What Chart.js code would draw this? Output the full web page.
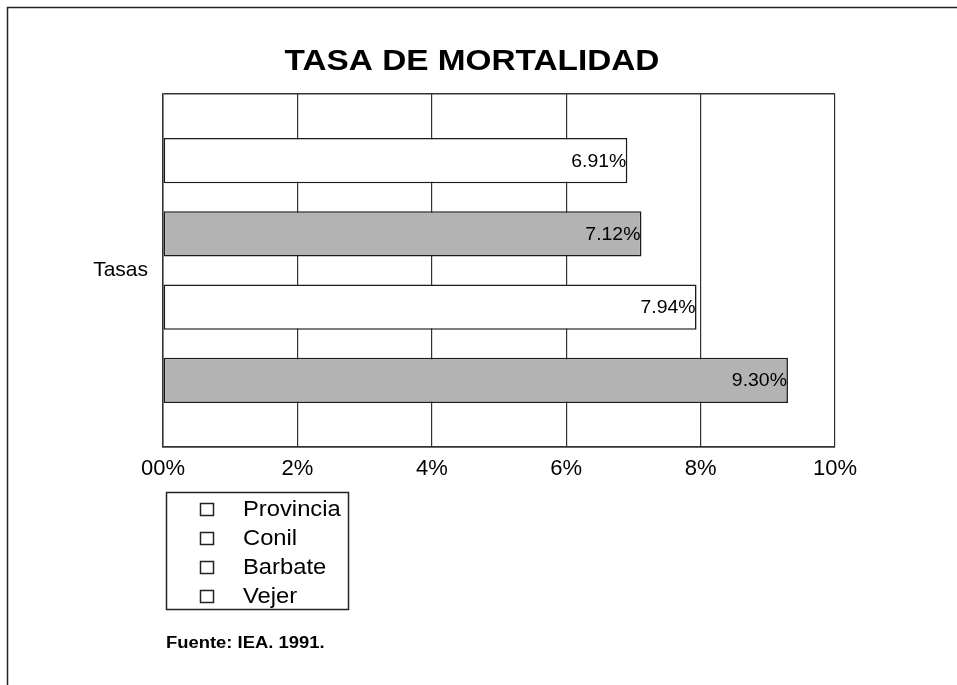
<!DOCTYPE html>
<html>
<head>
<meta charset="utf-8">
<script src="https://cdn.jsdelivr.net/npm/chart.js@4"></script>
<style>
  html, body { margin: 0; padding: 0; background: #ffffff; }
  canvas { display: block; }
</style>
</head>
<body>
<canvas id="c" width="957" height="685"></canvas>
<script>
const chartTitle = 'TASA DE MORTALIDAD';
const categories = ['Tasas'];
const seriesNames = ['Provincia', 'Conil', 'Barbate', 'Vejer'];
const seriesValues = [6.91, 7.12, 7.94, 9.30];
const seriesFills = ['#ffffff', '#b3b3b3', '#ffffff', '#b3b3b3'];
const xTickValues = [0, 2, 4, 6, 8, 10];
const xTickLabels = ['00%', '2%', '4%', '6%', '8%', '10%'];
const sourceNote = 'Fuente: IEA. 1991.';

const FONT = "'Liberation Sans', Arial, sans-serif";

function stretchedText(ctx, text, x, y, sx, align) {
  ctx.save();
  ctx.translate(x, y);
  ctx.scale(sx, 1);
  ctx.textAlign = align;
  ctx.fillText(text, 0, 0);
  ctx.restore();
}

const decorPlugin = {
  id: 'decor',
  beforeDraw(chart) {
    const ctx = chart.ctx;
    ctx.save();
    ctx.fillStyle = '#ffffff';
    ctx.fillRect(0, 0, chart.width, chart.height);
    ctx.strokeStyle = '#222';
    ctx.lineWidth = 1.5;
    ctx.beginPath();
    ctx.moveTo(7.5, chart.height);
    ctx.lineTo(7.5, 7.5);
    ctx.lineTo(chart.width, 7.5);
    ctx.stroke();
    ctx.restore();
  },
  afterDraw(chart) {
    const ctx = chart.ctx;
    ctx.save();
    // title
    ctx.fillStyle = '#000';
    ctx.font = 'bold 29px ' + FONT;
    ctx.textBaseline = 'alphabetic';
    stretchedText(ctx, chartTitle, 472, 70, 1.15, 'center');
    // legend box
    ctx.strokeStyle = '#222';
    ctx.lineWidth = 1.5;
    ctx.strokeRect(166.5, 492.5, 182, 117);
    const ys = [509, 538, 567, 596];
    ctx.font = '22px ' + FONT;
    ctx.textBaseline = 'middle';
    chart.data.datasets.forEach((ds, i) => {
      const y = ys[i];
      ctx.lineWidth = 1.5;
      ctx.strokeStyle = '#222';
      ctx.fillStyle = '#ffffff';
      ctx.fillRect(200, y - 6, 13, 12);
      ctx.strokeRect(200.5, y - 5.5, 13, 12);
      ctx.fillStyle = '#000';
      stretchedText(ctx, ds.label, 243, y + 1, 1.08, 'left');
    });
    // source
    ctx.font = 'bold 16px ' + FONT;
    stretchedText(ctx, sourceNote, 166, 644, 1.15, 'left');
    ctx.restore();
  },
  afterDatasetsDraw(chart) {
    const ctx = chart.ctx;
    ctx.save();
    ctx.font = '18px ' + FONT;
    ctx.fillStyle = '#000';
    ctx.textBaseline = 'middle';
    chart.data.datasets.forEach((ds, i) => {
      const meta = chart.getDatasetMeta(i);
      meta.data.forEach((el, j) => {
        stretchedText(ctx, ds.data[j].toFixed(2) + '%', el.x - 1, el.y + 1, 1.08, 'right');
      });
    });
    ctx.restore();
  }
};

new Chart(document.getElementById('c'), {
  type: 'bar',
  data: {
    labels: categories,
    datasets: seriesNames.map((name, i) => ({
      label: name,
      data: [seriesValues[i]],
      backgroundColor: seriesFills[i],
      borderColor: '#1a1a1a',
      borderWidth: 1.6,
      borderSkipped: false,
      barPercentage: 0.62,
      categoryPercentage: 0.83
    }))
  },
  options: {
    indexAxis: 'y',
    responsive: false,
    animation: false,
    events: [],
    layout: { padding: { top: 94, right: 122, bottom: 198, left: 0 } },
    plugins: {
      legend: { display: false },
      title: { display: false },
      tooltip: { enabled: false }
    },
    scales: {
      x: {
        type: 'linear',
        min: 0,
        max: 10,
        afterBuildTicks(scale) {
          scale.ticks = xTickValues.map(v => ({ value: v }));
        },
        afterFit(scale) { scale.height = 40; },
        ticks: {
          callback: (v, i) => xTickLabels[i],
          color: '#000',
          font: { family: FONT, size: 22 },
          padding: 9,
          maxRotation: 0
        },
        grid: { color: '#333', lineWidth: 1.2, drawTicks: false },
        border: { display: true, color: '#333', width: 1.5 }
      },
      y: {
        type: 'category',
        afterFit(scale) { scale.width = 163; },
        ticks: {
          color: '#000',
          font: { family: FONT, size: 21 },
          padding: 15
        },
        grid: { color: '#333', lineWidth: 1.5, drawTicks: false, offset: true },
        border: { display: true, color: '#333', width: 1.5 }
      }
    }
  },
  plugins: [decorPlugin]
});
</script>
</body>
</html>
